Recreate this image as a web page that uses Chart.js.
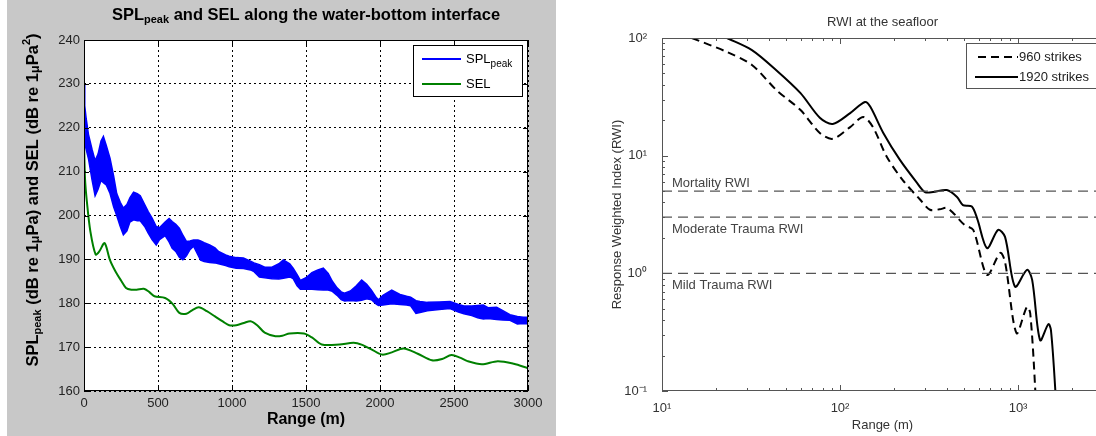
<!DOCTYPE html>
<html>
<head>
<meta charset="utf-8">
<script src="https://cdn.jsdelivr.net/npm/chart.js@4.4.0/dist/chart.umd.min.js"></script>
<style>
  html, body { margin: 0; padding: 0; background: #fff; width: 1096px; height: 436px; overflow: hidden; }
  #splChart { position: absolute; left: 7px; top: 0; }
  #rwiChart { position: absolute; left: 560px; top: 0; }
</style>
</head>
<body>
<canvas id="splChart" width="549" height="436"></canvas>
<canvas id="rwiChart" width="550" height="436"></canvas>
<script>
// ---- left panel: SPLpeak band (upper / lower envelope) and SEL ----
const splRange = [0, 5, 15, 30, 55, 75, 95, 115, 131, 150, 176, 200, 221, 245, 266, 290, 310, 335, 360, 380,
  410, 434, 460, 488, 510, 548, 575, 596, 620, 644, 668, 692, 716, 740, 770, 788, 812, 849, 885, 909,
  957, 981, 1029, 1077, 1125, 1149, 1185, 1221, 1270, 1317, 1347, 1390, 1413, 1440, 1462, 1500, 1540, 1580, 1617, 1650,
  1678, 1710, 1738, 1760, 1800, 1840, 1876, 1910, 1942, 1975, 1990, 2020, 2079, 2135, 2180, 2207, 2243, 2270, 2320, 2400,
  2473, 2530, 2567, 2620, 2660, 2698, 2730, 2788, 2830, 2878, 2928, 2968, 3000];
const splUpper = [230, 225, 222, 218.5, 215, 212.5, 214, 217, 218, 216, 213, 209, 205, 203, 201.7, 202.5, 204, 205.3, 205, 204.5,
  202.5, 200.9, 199.4, 197.5, 197.2, 198.5, 199.3, 198.6, 198, 197.1, 195.5, 194.1, 194.2, 194.4, 194.4, 194.2, 193.8, 193.3, 192.6, 191.8,
  191, 190.7, 190.4, 190.3, 189.6, 189.2, 188.8, 188.2, 188.2, 189, 189.9, 189, 188, 186.5, 185.2, 185.8, 187, 187.6, 188, 186.8,
  185, 183.5, 182.6, 182.3, 182.8, 184, 185.3, 184.3, 183, 181.3, 180.8, 181.8, 183, 182, 181.6, 181.4, 180.6, 180.4, 180.2, 180.3,
  180.4, 179.7, 179.4, 179.4, 179.5, 179.6, 179, 179.1, 178.3, 177.4, 177, 176.8, 176.8];
const splLower = [217, 216.5, 215, 213, 208, 204.5, 206, 208, 207.5, 207, 205, 202, 200, 197.5, 195.6, 196.5, 198.5, 199, 198.8, 198.8,
  197.5, 196, 194.5, 193.3, 194.5, 195.4, 194, 192.5, 191.8, 190.5, 189.9, 190.8, 192.2, 193, 191, 189.8, 189.5, 189.3, 189.2, 189,
  188.6, 188.3, 188, 187.9, 187.6, 187.2, 186, 185.8, 185.6, 185.5, 185.7, 186, 185.6, 184, 183.2, 183.2, 183.2, 183.1, 183, 183,
  182.7, 181.8, 180.8, 180.5, 180.6, 180.5, 180.7, 181, 180.8, 179.8, 179.5, 179.6, 179.9, 179.7, 179.6, 179.4, 177.7, 177.9, 178.3, 178.6,
  178.8, 178, 177.6, 177.2, 176.7, 176.4, 176.5, 176.3, 176.2, 176.1, 175.3, 175.4, 175.3];
const selRange = [0, 7, 19, 43, 79, 103, 139, 175, 212, 250, 284, 320, 356, 404, 440, 476, 548, 600, 644, 692,
  730, 776, 830, 885, 940, 981, 1029, 1080, 1125, 1170, 1221, 1293, 1340, 1389, 1486, 1540, 1606, 1726, 1822, 1880,
  1942, 2014, 2080, 2159, 2255, 2351, 2420, 2483, 2540, 2591, 2688, 2796, 2904, 3000];
const selLevel = [217, 208.3, 203.3, 196.4, 191.1, 191.8, 193.7, 189.9, 187.3, 185.2, 183.5, 183.1, 183.1, 183.3, 182.6, 181.6, 181.2, 179.8, 177.8, 177.6,
  178.4, 179.1, 178.2, 177.0, 175.8, 175.0, 175.0, 175.5, 175.9, 175.0, 173.3, 172.5, 172.6, 173.1, 173.1, 172.2, 170.6, 170.6, 171.0, 170.5,
  169.5, 168.3, 168.8, 169.7, 168.5, 167.0, 167.3, 168.2, 167.6, 166.8, 166.1, 166.8, 166.2, 165.2];
const splTickStep = 10;
const rangeTickStep = 500;

// ---- right panel: RWI at the seafloor ----
const rwiRange960 = [14.7, 23.2, 32, 44, 60, 77, 91, 114, 135, 153, 183, 225, 283, 320, 363, 398, 432, 500, 560, 670,
  794, 845, 980, 1122, 1170, 1250, 1265];
const rwi960 = [100, 76, 59, 36, 24.4, 15.6, 13.9, 17.5, 21.3, 17.5, 9.8, 6.2, 4.2, 3.47, 3.5, 3.6, 3.26, 2.58, 2.34, 0.97,
  1.49, 1.25, 0.31, 0.52, 0.46, 0.1, 0.05];
const rwiRange1920 = [23.2, 32, 44, 60, 77, 91, 114, 138, 148, 175, 217, 270, 300, 333, 398, 454, 490, 550, 590, 670,
  773, 845, 962, 1122, 1200, 1330, 1480, 1530, 1620, 1650];
const rwi1920 = [100, 79, 53, 34, 21, 18.6, 23, 28.6, 26, 15.6, 9.2, 5.9, 4.9, 4.9, 5.1, 4.46, 3.8, 3.7, 2.9, 1.64,
  2.34, 2.04, 0.77, 1.07, 0.88, 0.27, 0.37, 0.33, 0.1, 0.05];
const thresholdNames = ['Mortality RWI', 'Moderate Trauma RWI', 'Mild Trauma RWI'];
const thresholdValues = [5, 3, 1];
const thresholdLabelBelow = [false, true, true];
const rangeDecades = [10, 100, 1000];
const rwiDecades = [0.1, 1, 10, 100];

const toPoints = (xs, ys) => xs.map((x, i) => ({ x: x, y: ys[i] }));
const sup = { '0': '\u2070', '1': '\u00b9', '2': '\u00b2', '3': '\u00b3', '-': '\u207b' };
const decadeLabel = v => '10' + String(Math.round(Math.log10(v))).split('').map(c => sup[c]).join('');

function drawRich(ctx, parts, x, y, align) {
  let w = 0;
  parts.forEach(p => { ctx.font = p.f; w += ctx.measureText(p.t).width; });
  let cx = align === 'center' ? x - w / 2 : (align === 'right' ? x - w : x);
  ctx.textAlign = 'left';
  ctx.textBaseline = 'middle';
  parts.forEach(p => {
    ctx.font = p.f;
    ctx.fillText(p.t, cx, y + (p.dy || 0));
    cx += ctx.measureText(p.t).width;
  });
}

const FONT = "'Liberation Sans', Arial, sans-serif";
const B16 = 'bold 16.5px ' + FONT, B11 = 'bold 11px ' + FONT, B13 = 'bold 13px ' + FONT;

const splDecor = {
  id: 'splDecor',
  beforeDraw(chart) {
    const { ctx, chartArea: a } = chart;
    ctx.save();
    ctx.fillStyle = '#c8c8c8';
    ctx.fillRect(0, 0, chart.width, chart.height);
    ctx.fillStyle = '#fff';
    ctx.fillRect(a.left, a.top, a.right - a.left, a.bottom - a.top);
    ctx.restore();
  },
  afterDraw(chart) {
    const { ctx, chartArea: a, scales } = chart;
    ctx.save();
    // frame and inward ticks
    ctx.strokeStyle = '#000';
    ctx.lineWidth = 1;
    ctx.strokeRect(a.left + 0.5, a.top + 0.5, a.right - a.left - 1, a.bottom - a.top - 1);
    ctx.beginPath();
    scales.x.ticks.forEach(t => {
      const px = Math.round(scales.x.getPixelForValue(t.value)) + 0.5;
      ctx.moveTo(px, a.bottom); ctx.lineTo(px, a.bottom - 5);
      ctx.moveTo(px, a.top); ctx.lineTo(px, a.top + 5);
    });
    scales.y.ticks.forEach(t => {
      const py = Math.round(scales.y.getPixelForValue(t.value)) + 0.5;
      ctx.moveTo(a.left, py); ctx.lineTo(a.left + 5, py);
      ctx.moveTo(a.right, py); ctx.lineTo(a.right - 5, py);
    });
    ctx.stroke();

    // title
    ctx.fillStyle = '#000';
    const cx = (a.left + a.right) / 2;
    drawRich(ctx, [
      { t: 'SPL', f: B16 }, { t: 'peak', f: B11, dy: 5 },
      { t: ' and SEL along the water-bottom interface', f: B16 }
    ], cx, 15, 'center');
    // x title
    drawRich(ctx, [{ t: 'Range (m)', f: 'bold 16px ' + FONT }], cx, 420, 'center');
    // y title (rotated)
    ctx.save();
    ctx.translate(26, 200);
    ctx.rotate(-Math.PI / 2);
    drawRich(ctx, [
      { t: 'SPL', f: B16 }, { t: 'peak', f: B11, dy: 5 },
      { t: ' (dB re 1', f: B16 }, { t: '\u03bc', f: B13, dy: 2 },
      { t: 'Pa) and SEL (dB re 1', f: B16 }, { t: '\u03bc', f: B13, dy: 2 },
      { t: 'Pa', f: B16 }, { t: '2', f: B11, dy: -6 }, { t: ')', f: B16 }
    ], 0, 0, 'center');
    ctx.restore();

    // legend
    const lx = 406, ly = 45, lw = 109, lh = 51;
    ctx.fillStyle = '#fff';
    ctx.fillRect(lx, ly, lw, lh);
    ctx.strokeStyle = '#000';
    ctx.strokeRect(lx + 0.5, ly + 0.5, lw, lh);
    const items = [
      { c: '#0000ff', parts: [{ t: 'SPL', f: '13px ' + FONT }, { t: 'peak', f: '10px ' + FONT, dy: 5 }], y: 59 },
      { c: '#008000', parts: [{ t: 'SEL', f: '13px ' + FONT }], y: 84 }
    ];
    items.forEach(it => {
      ctx.strokeStyle = it.c;
      ctx.lineWidth = 2;
      ctx.beginPath();
      ctx.moveTo(415, it.y); ctx.lineTo(454, it.y);
      ctx.stroke();
      ctx.fillStyle = '#000';
      drawRich(ctx, it.parts, 459, it.y, 'left');
    });
    ctx.restore();
  }
};

new Chart(document.getElementById('splChart').getContext('2d'), {
  type: 'line',
  data: {
    datasets: [
      {
        label: 'SPLpeak upper',
        data: toPoints(splRange, splUpper),
        borderColor: '#0000ff', backgroundColor: '#0000ff',
        borderWidth: 1.5, pointRadius: 0, tension: 0, fill: '+1'
      },
      {
        label: 'SPLpeak lower',
        data: toPoints(splRange, splLower),
        borderColor: '#0000ff', borderWidth: 1.5, pointRadius: 0, tension: 0, fill: false
      },
      {
        label: 'SEL',
        data: toPoints(selRange, selLevel),
        borderColor: '#008000', borderWidth: 2, pointRadius: 0, tension: 0.3, fill: false
      }
    ]
  },
  options: {
    responsive: false,
    animation: false,
    layout: { padding: { top: 40, right: 28, left: 0, bottom: 0 } },
    plugins: { legend: { display: false }, tooltip: { enabled: false } },
    scales: {
      x: {
        type: 'linear', min: 0, max: 3000,
        ticks: { stepSize: rangeTickStep, callback: v => String(v), color: '#222', padding: 5, maxRotation: 0, font: { family: FONT, size: 13 } },
        grid: { color: '#000', lineWidth: 1, drawTicks: false },
        border: { display: false, dash: [2, 3] },
        afterFit: s => { s.height = 45; }
      },
      y: {
        min: 160, max: 240,
        ticks: { stepSize: splTickStep, callback: v => String(v), color: '#222', padding: 4, font: { family: FONT, size: 13 } },
        grid: { color: '#000', lineWidth: 1, drawTicks: false },
        border: { display: false, dash: [2, 3] },
        afterFit: s => { s.width = 77; }
      }
    }
  },
  plugins: [splDecor]
});

// ---- right chart ----
const rwiDecor = {
  id: 'rwiDecor',
  beforeDraw(chart) {
    const { ctx } = chart;
    ctx.save();
    ctx.fillStyle = '#fff';
    ctx.fillRect(0, 0, chart.width, chart.height);
    ctx.restore();
  },
  afterDraw(chart) {
    const { ctx, chartArea: a, scales } = chart;
    ctx.save();
    ctx.strokeStyle = '#555';
    ctx.lineWidth = 1;
    ctx.strokeRect(a.left + 0.5, a.top + 0.5, a.right - a.left - 1, a.bottom - a.top - 1);
    // inward log ticks
    ctx.beginPath();
    rangeDecades.forEach(d => {
      for (let m = 1; m <= 9; m++) {
        const v = d * m;
        if (v < scales.x.min || v > scales.x.max) continue;
        const px = Math.round(scales.x.getPixelForValue(v)) + 0.5;
        const len = m === 1 ? 6 : 3;
        ctx.moveTo(px, a.bottom); ctx.lineTo(px, a.bottom - len);
        ctx.moveTo(px, a.top); ctx.lineTo(px, a.top + len);
      }
    });
    rwiDecades.forEach(d => {
      for (let m = 1; m <= 9; m++) {
        const v = d * m;
        if (v < scales.y.min || v > scales.y.max) continue;
        const py = Math.round(scales.y.getPixelForValue(v)) + 0.5;
        const len = m === 1 ? 6 : 3;
        ctx.moveTo(a.left, py); ctx.lineTo(a.left + len, py);
      }
    });
    ctx.stroke();

    const cx = (a.left + a.right) / 2;
    ctx.fillStyle = '#333';
    drawRich(ctx, [{ t: 'RWI at the seafloor', f: '13px ' + FONT }], cx, 22, 'center');
    drawRich(ctx, [{ t: 'Range (m)', f: '13px ' + FONT }], cx, 425, 'center');
    ctx.save();
    ctx.translate(57, (a.top + a.bottom) / 2);
    ctx.rotate(-Math.PI / 2);
    drawRich(ctx, [{ t: 'Response Weighted Index (RWI)', f: '13px ' + FONT }], 0, 0, 'center');
    ctx.restore();

    // threshold labels
    ctx.fillStyle = '#444';
    thresholdNames.forEach((name, i) => {
      const py = scales.y.getPixelForValue(thresholdValues[i]);
      drawRich(ctx, [{ t: name, f: '13px ' + FONT }], a.left + 10, py + (thresholdLabelBelow[i] ? 12 : -8), 'left');
    });

    // legend
    const lx = 406, ly = 43, lw = 150, lh = 45;
    ctx.fillStyle = '#fff';
    ctx.fillRect(lx, ly, lw, lh);
    ctx.strokeStyle = '#555';
    ctx.strokeRect(lx + 0.5, ly + 0.5, lw, lh);
    const items = [
      { dash: [8, 5], t: '960 strikes', y: 57, x0: 418 },
      { dash: [], t: '1920 strikes', y: 77, x0: 415 }
    ];
    items.forEach(it => {
      ctx.strokeStyle = '#000';
      ctx.lineWidth = 2;
      ctx.setLineDash(it.dash);
      ctx.beginPath();
      ctx.moveTo(it.x0, it.y); ctx.lineTo(458, it.y);
      ctx.stroke();
      ctx.setLineDash([]);
      ctx.fillStyle = '#222';
      drawRich(ctx, [{ t: it.t, f: '13px ' + FONT }], 459, it.y, 'left');
    });
    ctx.restore();
  }
};

const thresholdSets = thresholdValues.map((v, i) => ({
  label: thresholdNames[i],
  data: [{ x: 10, y: v }, { x: 3000, y: v }],
  borderColor: '#555', borderWidth: 1.2, borderDash: [10, 6], pointRadius: 0, fill: false
}));

new Chart(document.getElementById('rwiChart').getContext('2d'), {
  type: 'line',
  data: {
    datasets: thresholdSets.concat([
      {
        label: '960 strikes',
        data: toPoints(rwiRange960, rwi960),
        borderColor: '#000', borderWidth: 2, borderDash: [8, 5], pointRadius: 0, tension: 0.3, fill: false
      },
      {
        label: '1920 strikes',
        data: toPoints(rwiRange1920, rwi1920),
        borderColor: '#000', borderWidth: 2, pointRadius: 0, tension: 0.3, fill: false
      }
    ])
  },
  options: {
    responsive: false,
    animation: false,
    layout: { padding: { top: 38, right: 7, left: 0, bottom: 0 } },
    plugins: { legend: { display: false }, tooltip: { enabled: false } },
    scales: {
      x: {
        type: 'logarithmic', min: 10, max: 3000,
        afterBuildTicks: s => { s.ticks = rangeDecades.map(v => ({ value: v })); },
        ticks: { callback: v => decadeLabel(v), color: '#333', padding: 2, maxRotation: 0, font: { family: FONT, size: 13 } },
        grid: { display: false },
        border: { display: false },
        afterFit: s => { s.height = 45; }
      },
      y: {
        type: 'logarithmic', min: 0.1, max: 100,
        afterBuildTicks: s => { s.ticks = rwiDecades.map(v => ({ value: v })); },
        ticks: { callback: v => decadeLabel(v), color: '#333', padding: 7, font: { family: FONT, size: 13 } },
        grid: { display: false },
        border: { display: false },
        afterFit: s => { s.width = 102; }
      }
    }
  },
  plugins: [rwiDecor]
});
</script>
</body>
</html>
